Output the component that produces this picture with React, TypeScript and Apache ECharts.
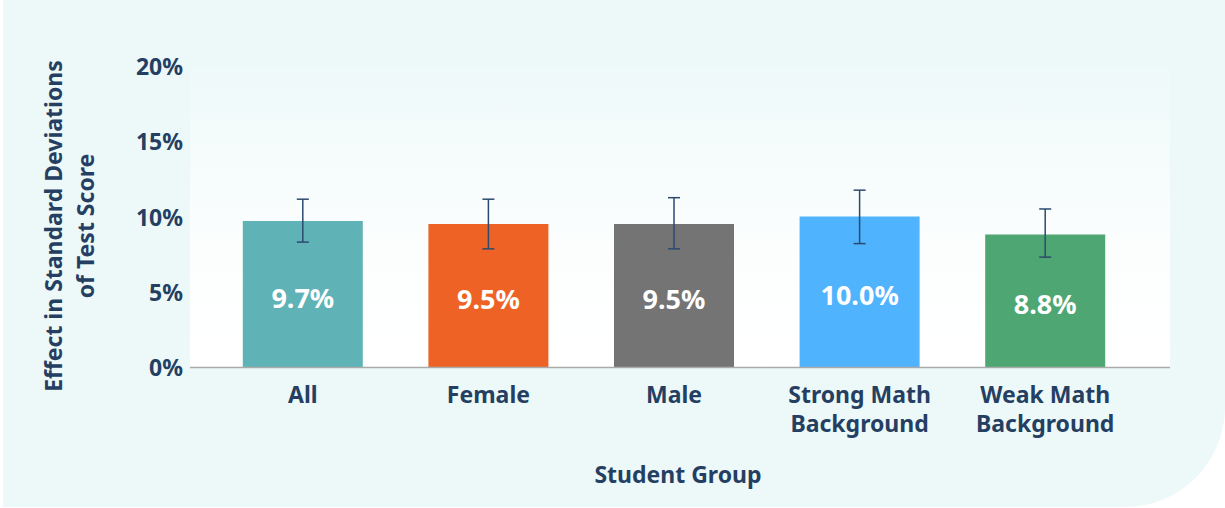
import React, { useEffect, useRef } from "react";
import * as echarts from "echarts";

const categories = ["All", "Female", "Male", "Strong Math\nBackground", "Weak Math\nBackground"];
const values = [9.7, 9.5, 9.5, 10.0, 8.8];
const errLow = [8.3, 7.85, 7.85, 8.2, 7.3];
const errHigh = [11.15, 11.15, 11.25, 11.75, 10.5];
const barColors = ["#5fb3b6", "#ee6325", "#747474", "#4fb3fe", "#4ea673"];
const yTicks = [0, 5, 10, 15, 20];

const FONT = "'Noto Sans', Lato, sans-serif";
const NAVY = "#253f63";
const FS = 23;

export default function App() {
  const ref = useRef<HTMLDivElement>(null);
  useEffect(() => {
    if (!ref.current) return;
    const chart = echarts.init(ref.current, null, { renderer: "svg" });
    const option: any = {
      animation: false,
      backgroundColor: "#ffffff",
      graphic: [
        {
          type: "rect",
          z: -10,
          silent: true,
          shape: { x: 3, y: 0, width: 1222, height: 507, r: [0, 0, 100, 0] },
          style: { fill: "#edf8f8" },
        },
        {
          type: "rect",
          z: -9,
          silent: true,
          shape: { x: 190, y: 66, width: 980, height: 301 },
          style: {
            fill: new echarts.graphic.LinearGradient(0, 0, 0, 1, [
              { offset: 0, color: "#eef9f9" },
              { offset: 0.6, color: "#fcfefe" },
              { offset: 1, color: "#ffffff" },
            ]),
          },
        },
        {
          type: "line",
          z: 5,
          silent: true,
          shape: { x1: 190, y1: 367.5, x2: 1170, y2: 367.5 },
          style: { stroke: "#aaaaaa", lineWidth: 1.5 },
        },
        {
          type: "text",
          x: 69,
          y: 226,
          rotation: Math.PI / 2,
          style: {
            text: "Effect in Standard Deviations\nof Test Score",
            fontFamily: FONT,
            fontWeight: "bold",
            fontSize: FS,
            lineHeight: 32,
            fill: NAVY,
            align: "center",
            verticalAlign: "middle",
          },
        },
      ],
      grid: { left: 210, right: 87, top: 66, bottom: 141 },
      xAxis: {
        type: "category",
        data: categories,
        axisLine: { show: false },
        axisTick: { show: false },
        axisLabel: {
          fontFamily: FONT,
          fontWeight: "bold",
          fontSize: FS,
          lineHeight: 29,
          color: NAVY,
          margin: 12,
        },
        name: "Student Group",
        nameLocation: "middle",
        nameGap: 95,
        nameTextStyle: {
          fontFamily: FONT,
          fontWeight: "bold",
          fontSize: FS,
          color: NAVY,
          padding: [0, 0, 0, 8],
        },
      },
      yAxis: {
        type: "value",
        min: yTicks[0],
        max: yTicks[yTicks.length - 1],
        interval: 5,
        axisLine: { show: false },
        axisTick: { show: false },
        splitLine: { show: false },
        axisLabel: {
          formatter: "{value}%",
          fontFamily: FONT,
          fontWeight: "bold",
          fontSize: FS,
          color: NAVY,
          margin: 27,
          padding: [0, 0, 3, 0],
        },
      },
      series: [
        {
          type: "bar",
          barWidth: 120,
          data: values.map((v, i) => ({ value: v, itemStyle: { color: barColors[i] } })),
          label: {
            show: true,
            position: "inside",
            offset: [0, 3],
            formatter: (p: any) => p.value.toFixed(1) + "%",
            fontFamily: FONT,
            fontWeight: "bold",
            fontSize: 27,
            color: "#ffffff",
          },
        },
        {
          type: "custom",
          z: 10,
          data: categories.map((_, i) => [i, errLow[i], errHigh[i]]),
          renderItem: (params: any, api: any) => {
            const x = api.value(0);
            const lo = api.coord([x, api.value(1)]);
            const hi = api.coord([x, api.value(2)]);
            const hw = 6;
            const style = { stroke: "#2c4a70", lineWidth: 1.5 };
            return {
              type: "group",
              children: [
                { type: "line", shape: { x1: lo[0], y1: lo[1], x2: hi[0], y2: hi[1] }, style },
                { type: "line", shape: { x1: lo[0] - hw, y1: lo[1], x2: lo[0] + hw, y2: lo[1] }, style },
                { type: "line", shape: { x1: hi[0] - hw, y1: hi[1], x2: hi[0] + hw, y2: hi[1] }, style },
              ],
            };
          },
        },
      ],
    };
    chart.setOption(option);
    return () => chart.dispose();
  }, []);
  return (
    <div
      ref={ref}
      style={{ position: "fixed", left: 0, top: 0, width: 1225, height: 508 }}
    />
  );
}
